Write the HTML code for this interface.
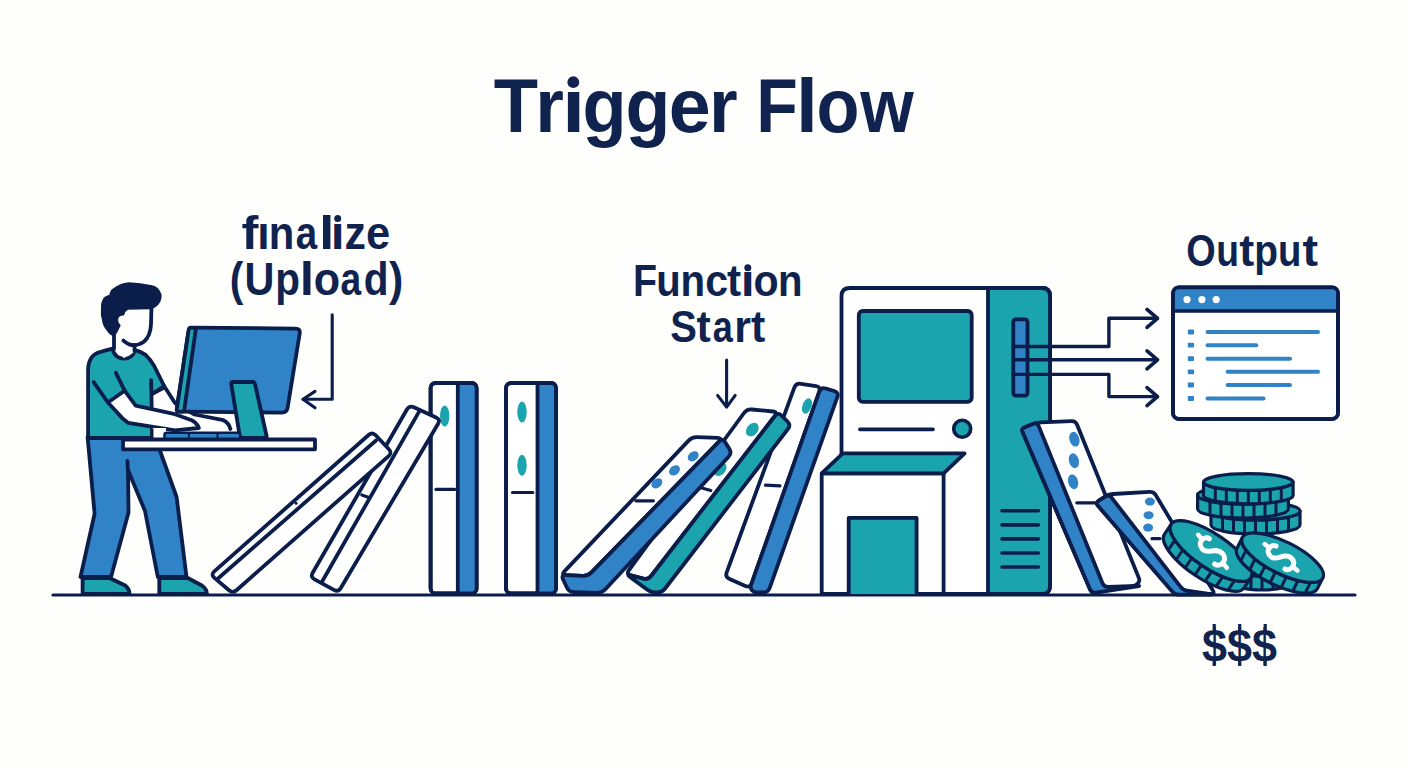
<!DOCTYPE html>
<html><head><meta charset="utf-8">
<style>
html,body{margin:0;padding:0;background:#fefefd;}
body{width:1408px;height:768px;overflow:hidden;}
svg{display:block;}
text{font-family:"Liberation Sans",sans-serif;font-weight:bold;fill:#10234f;}
</style></head><body>
<svg width="1408" height="768" viewBox="0 0 1408 768">
<rect width="1408" height="768" fill="#fefefd"/>
<text x="1202" y="662" font-size="47" textLength="75" lengthAdjust="spacingAndGlyphs">$$$</text>
<g fill="#10234f"><rect x="1212.6" y="624" width="3.2" height="8"/><rect x="1212.6" y="658" width="3.2" height="8"/><rect x="1238.1" y="624" width="3.2" height="8"/><rect x="1238.1" y="658" width="3.2" height="8"/><rect x="1263.6" y="624" width="3.2" height="8"/><rect x="1263.6" y="658" width="3.2" height="8"/></g>
<text transform="translate(493.69 132) scale(0.9454 1)" x="0" y="0" font-size="76.7" style="fill:#10234f">T</text>
<text transform="translate(535.14 132) scale(0.9606 1)" x="0" y="0" font-size="76.7" style="fill:#10234f">r</text>
<text transform="translate(561.92 132) scale(1.0833 1)" x="0" y="0" font-size="76.7" style="fill:#10234f">ı</text>
<text transform="translate(582.54 132) scale(0.9410 1)" x="0" y="0" font-size="76.7" style="fill:#10234f">g</text>
<text transform="translate(625.59 132) scale(0.9566 1)" x="0" y="0" font-size="76.7" style="fill:#10234f">g</text>
<text transform="translate(668.76 132) scale(0.9827 1)" x="0" y="0" font-size="76.7" style="fill:#10234f">e</text>
<text transform="translate(708.94 132) scale(0.9606 1)" x="0" y="0" font-size="76.7" style="fill:#10234f">r</text>
<text transform="translate(756.25 132) scale(0.8866 1)" x="0" y="0" font-size="76.7" style="fill:#10234f">F</text>
<text transform="translate(796.10 132) scale(1.0262 1)" x="0" y="0" font-size="76.7" style="fill:#10234f">l</text>
<text transform="translate(816.45 132) scale(0.9178 1)" x="0" y="0" font-size="76.7" style="fill:#10234f">o</text>
<text transform="translate(860.30 132) scale(0.8978 1)" x="0" y="0" font-size="76.7" style="fill:#10234f">w</text>
<text transform="translate(241.43 249) scale(1.1079 1)" x="0" y="0" font-size="46" style="fill:#10234f">f</text>
<text transform="translate(257.15 249) scale(0.9665 1)" x="0" y="0" font-size="46" style="fill:#10234f">ı</text>
<text transform="translate(268.74 249) scale(0.9093 1)" x="0" y="0" font-size="46" style="fill:#10234f">n</text>
<text transform="translate(295.67 249) scale(0.8358 1)" x="0" y="0" font-size="46" style="fill:#10234f">a</text>
<text transform="translate(319.13 249) scale(1.1725 1)" x="0" y="0" font-size="46" style="fill:#10234f">l</text>
<text transform="translate(330.79 249) scale(1.0774 1)" x="0" y="0" font-size="46" style="fill:#10234f">ı</text>
<text transform="translate(344.48 249) scale(0.9335 1)" x="0" y="0" font-size="46" style="fill:#10234f">z</text>
<text transform="translate(366.10 249) scale(0.9454 1)" x="0" y="0" font-size="46" style="fill:#10234f">e</text>
<text transform="translate(229.71 294.6) scale(0.8820 1)" x="0" y="0" font-size="46.4" style="fill:#10234f">(</text>
<text transform="translate(244.61 294.6) scale(0.8928 1)" x="0" y="0" font-size="46.4" style="fill:#10234f">U</text>
<text transform="translate(275.13 294.6) scale(0.8725 1)" x="0" y="0" font-size="46.4" style="fill:#10234f">p</text>
<text transform="translate(299.69 294.6) scale(1.1152 1)" x="0" y="0" font-size="46.4" style="fill:#10234f">l</text>
<text transform="translate(313.81 294.6) scale(0.9305 1)" x="0" y="0" font-size="46.4" style="fill:#10234f">o</text>
<text transform="translate(340.61 294.6) scale(0.8003 1)" x="0" y="0" font-size="46.4" style="fill:#10234f">a</text>
<text transform="translate(363.69 294.6) scale(0.8746 1)" x="0" y="0" font-size="46.4" style="fill:#10234f">d</text>
<text transform="translate(388.96 294.6) scale(0.9240 1)" x="0" y="0" font-size="46.4" style="fill:#10234f">)</text>
<text transform="translate(632.96 296.1) scale(0.9042 1)" x="0" y="0" font-size="43.6" style="fill:#10234f">F</text>
<text transform="translate(656.27 296.1) scale(0.9190 1)" x="0" y="0" font-size="43.6" style="fill:#10234f">u</text>
<text transform="translate(680.45 296.1) scale(0.9214 1)" x="0" y="0" font-size="43.6" style="fill:#10234f">n</text>
<text transform="translate(705.30 296.1) scale(0.9404 1)" x="0" y="0" font-size="43.6" style="fill:#10234f">c</text>
<text transform="translate(726.98 296.1) scale(0.9736 1)" x="0" y="0" font-size="43.6" style="fill:#10234f">t</text>
<text transform="translate(740.87 296.1) scale(1.1451 1)" x="0" y="0" font-size="43.6" style="fill:#10234f">ı</text>
<text transform="translate(753.39 296.1) scale(0.9429 1)" x="0" y="0" font-size="43.6" style="fill:#10234f">o</text>
<text transform="translate(777.95 296.1) scale(0.9214 1)" x="0" y="0" font-size="43.6" style="fill:#10234f">n</text>
<text transform="translate(670.35 341.6) scale(0.9149 1)" x="0" y="0" font-size="43.6" style="fill:#10234f">S</text>
<text transform="translate(696.58 341.6) scale(0.9811 1)" x="0" y="0" font-size="43.6" style="fill:#10234f">t</text>
<text transform="translate(712.65 341.6) scale(0.8259 1)" x="0" y="0" font-size="43.6" style="fill:#10234f">a</text>
<text transform="translate(734.28 341.6) scale(0.9826 1)" x="0" y="0" font-size="43.6" style="fill:#10234f">r</text>
<text transform="translate(751.08 341.6) scale(0.9811 1)" x="0" y="0" font-size="43.6" style="fill:#10234f">t</text>
<text transform="translate(1186.15 265.7) scale(0.8544 1)" x="0" y="0" font-size="44.3" style="fill:#10234f">O</text>
<text transform="translate(1216.29 265.7) scale(0.8414 1)" x="0" y="0" font-size="44.3" style="fill:#10234f">u</text>
<text transform="translate(1239.15 265.7) scale(1.0168 1)" x="0" y="0" font-size="44.3" style="fill:#10234f">t</text>
<text transform="translate(1254.14 265.7) scale(0.8780 1)" x="0" y="0" font-size="44.3" style="fill:#10234f">p</text>
<text transform="translate(1278.02 265.7) scale(0.8648 1)" x="0" y="0" font-size="44.3" style="fill:#10234f">u</text>
<text transform="translate(1302.53 265.7) scale(1.0533 1)" x="0" y="0" font-size="44.3" style="fill:#10234f">t</text>
<circle cx="573.3" cy="82.2" r="5.9" fill="#10234f"/>
<circle cx="337.7" cy="218.5" r="3.5" fill="#10234f"/>
<circle cx="747.8" cy="267.8" r="3.5" fill="#10234f"/>
<line x1="53" y1="595" x2="1355" y2="595" stroke="#0b1d4b" stroke-width="3.2" stroke-linecap="round"/>
<polygon points="87.6,437.0 94.6,513.7 80.5,577.0 111.0,577.0 128.5,512.5 128.0,470.0 145.0,511.0 157.8,577.0 186.5,577.0 176.6,497.0 159.0,448.0 157.0,437.0" fill="#3183c8" stroke="#0b1d4b" stroke-width="3.8" stroke-linejoin="round" />
<line x1="127.4" y1="461" x2="128" y2="472" stroke="#0b1d4b" stroke-width="3.8" stroke-linecap="round"/>
<path d="M82.6,578 L109.6,578 L125.2,585.5 Q129.5,589 129.5,594 L82.6,594 Z" fill="#1ba3ae" stroke="#0b1d4b" stroke-width="3.8" stroke-linejoin="round" stroke-linecap="round" />
<path d="M159.3,578 L187.7,578 L201.9,585.5 Q206.9,589 206.9,594 L159.3,594 Z" fill="#1ba3ae" stroke="#0b1d4b" stroke-width="3.8" stroke-linejoin="round" stroke-linecap="round" />
<path d="M88.1,438 L88.1,369.7 C88.1,360 93,353 101,351.8 C105,350.5 109,349.5 112.8,348.7 C114,356 119,358.5 124.6,358.5 C130,358.5 134,355 134.4,349.9 Q141,351.5 145.6,354.9 Q150,359 154.2,366 L164.1,386 L152,394 L152,438 Z" fill="#1ba3ae" stroke="#0b1d4b" stroke-width="3.8" stroke-linejoin="round" stroke-linecap="round" />
<path d="M152.4,393.8 L164.1,387.6 L175,403 L194.6,414.5 L223.3,420.2 Q229,423 230.4,428.8 L200,433 L152,433 Z" fill="#fff"/>
<path d="M164.1,386 L175,403 L194.6,414.5 L223.3,420.2 Q229,423 230.4,429" fill="none" stroke="#0b1d4b" stroke-width="3.8" stroke-linejoin="round" stroke-linecap="round" />
<line x1="152.4" y1="393.8" x2="164.1" y2="387.6" stroke="#0b1d4b" stroke-width="3.8" stroke-linecap="round"/>
<line x1="151.1" y1="380.2" x2="151.7" y2="406.8" stroke="#0b1d4b" stroke-width="3.8" stroke-linecap="round"/>
<path d="M107.9,402.5 L124.6,390.7 L135.7,405.6 L175,414.2 L191.7,420.2 Q197,423 198.9,428 L175,430.3 L128.3,422.9 L122.1,417.9 Z" fill="#ffffff" stroke="#0b1d4b" stroke-width="3.8" stroke-linejoin="round" stroke-linecap="round" />
<line x1="93.65" y1="382.1" x2="107.9" y2="402.5" stroke="#0b1d4b" stroke-width="3.8" stroke-linecap="round"/>
<line x1="115.9" y1="372.8" x2="124.6" y2="390.7" stroke="#0b1d4b" stroke-width="3.8" stroke-linecap="round"/>
<rect x="152" y="428" width="14" height="10.5" fill="#fff"/>
<line x1="152" y1="429.5" x2="152" y2="438" stroke="#0b1d4b" stroke-width="3" stroke-linecap="round"/>
<path d="M151.5,306 L151,324.2 L149.2,334.8 L143.9,341.8 L136.9,345.3 L134.5,346 L134.5,352 L124,358 L114,350 L114,336 L118,320 L125,309 Z" fill="#fff"/>
<path d="M151.5,306 L151,324.2 Q150.5,336 143.9,341.8 Q137,346.5 129.8,344.7 Q126,343 123.4,340.6" fill="none" stroke="#0b1d4b" stroke-width="3.8" stroke-linejoin="round" stroke-linecap="round" />
<line x1="114" y1="334" x2="114" y2="349" stroke="#0b1d4b" stroke-width="3.8" stroke-linecap="round"/>
<line x1="134.5" y1="345" x2="134.5" y2="351" stroke="#0b1d4b" stroke-width="3.8" stroke-linecap="round"/>
<path d="M109.9,295.5 Q111,290 113.4,289.1 Q120,284 128.7,283 Q140,283.5 152.1,286.1 Q158,287 160.9,294.9 Q161.5,302 155,306.6 Q152,308.4 151,308.4 L127.5,309 Q124,311 123.4,314.8 Q118,315 117.5,319 Q117,323 119.9,325.4 L117,331.3 L114,336 Q109,333.5 108.2,331.3 Q103,325 102.9,320.7 Q101,315 101.7,310.2 Q101.5,303 102.9,300.8 Q104,297.5 106.4,296.7 Z" fill="#0b1d4b" stroke="#0b1d4b" stroke-width="1.5" stroke-linejoin="round" stroke-linecap="round" />
<path d="M188.3,332.5 Q189.0,327.6 194.0,327.6 L295.5,328.6 Q300.5,328.6 299.7,333.5 L287.6,407.7 Q286.8,412.6 281.8,412.6 L181.4,411.6 Q176.4,411.6 177.1,406.7 Z" fill="#3183c8" stroke="#0b1d4b" stroke-width="3.8" stroke-linejoin="round" />
<path d="M188.7,329.6 Q189.0,327.6 191.0,327.7 L194.0,327.9 Q196.0,328.0 195.7,330.0 L184.3,409.6 Q184.0,411.6 182.0,411.6 L178.4,411.6 Q176.4,411.6 176.7,409.6 Z" fill="#1ba3ae" stroke="#0b1d4b" stroke-width="3.8" stroke-linejoin="round" />
<path d="M231.3,384.0 Q231.0,382.0 233.0,382.0 L252.6,382.0 Q254.6,382.0 255.0,384.0 L266.6,436.0 Q267.0,438.0 265.0,438.0 L242.0,438.0 Q240.0,438.0 239.7,436.0 Z" fill="#1ba3ae" stroke="#0b1d4b" stroke-width="3.8" stroke-linejoin="round" />
<rect x="164.5" y="432.8" width="75.5" height="6.699999999999989" rx="2" fill="#3183c8" stroke="#0b1d4b" stroke-width="2.5"/>
<line x1="188.9" y1="433" x2="188.9" y2="439" stroke="#0b1d4b" stroke-width="2.2" stroke-linecap="round"/>
<line x1="217.5" y1="433" x2="217.5" y2="439" stroke="#0b1d4b" stroke-width="2.2" stroke-linecap="round"/>
<path d="M123,439.5 L315,439.5 L315,449.3 L123,449.3 Z" fill="#ffffff" stroke="#0b1d4b" stroke-width="3.8" stroke-linejoin="round" stroke-linecap="round" />
<path d="M332.2,314.8 L332.2,399.2 L303,399.2" fill="none" stroke="#0b1d4b" stroke-width="3.1" stroke-linejoin="round" stroke-linecap="round" />
<path d="M315,391.4 L303,399.2 L315,407.8" fill="none" stroke="#0b1d4b" stroke-width="3.1" stroke-linejoin="round" stroke-linecap="round" />
<rect x="430.6" y="383" width="46.0" height="210.39999999999998" rx="5" fill="#ffffff" stroke="#0b1d4b" stroke-width="3.8"/>
<path d="M457.8,384.5 L457.8,592 L471,592 Q475,592 475,588 L475,388 Q475,384.5 471,384.5 Z" fill="#3183c8" stroke="#0b1d4b" stroke-width="0" stroke-linejoin="round" stroke-linecap="round" />
<line x1="457.8" y1="384.5" x2="457.8" y2="592" stroke="#0b1d4b" stroke-width="3.8" stroke-linecap="round"/>
<rect x="430.6" y="383" width="46.0" height="210.39999999999998" rx="5" fill="none" stroke="#0b1d4b" stroke-width="3.8"/>
<ellipse cx="444.7" cy="416" rx="4.7" ry="10.5" fill="#1ba3ae"/>
<line x1="436" y1="489.4" x2="454.7" y2="489.4" stroke="#0b1d4b" stroke-width="3.2" stroke-linecap="round"/>
<rect x="506" y="383" width="50" height="210.39999999999998" rx="5" fill="#ffffff" stroke="#0b1d4b" stroke-width="3.8"/>
<path d="M537.5,384.5 L537.5,592 L550,592 Q554.5,592 554.5,588 L554.5,388 Q554.5,384.5 550,384.5 Z" fill="#3183c8" stroke="#0b1d4b" stroke-width="0" stroke-linejoin="round" stroke-linecap="round" />
<line x1="537.5" y1="384.5" x2="537.5" y2="592" stroke="#0b1d4b" stroke-width="3.8" stroke-linecap="round"/>
<rect x="506" y="383" width="50" height="210.39999999999998" rx="5" fill="none" stroke="#0b1d4b" stroke-width="3.8"/>
<ellipse cx="522" cy="412" rx="4.7" ry="10.5" fill="#1ba3ae"/>
<ellipse cx="522" cy="465.3" rx="4.7" ry="10.5" fill="#1ba3ae"/>
<line x1="512.5" y1="492.5" x2="532.8" y2="492.5" stroke="#0b1d4b" stroke-width="3.2" stroke-linecap="round"/>
<path d="M314.6,579.4 Q310.2,577.0 312.7,572.7 L406.9,409.5 Q409.4,405.2 413.9,407.3 L436.1,417.4 Q440.6,419.5 438.1,423.8 L340.8,588.0 Q338.3,592.3 333.9,589.9 Z" fill="#ffffff" stroke="#0b1d4b" stroke-width="3.8" stroke-linejoin="round" />
<line x1="322" y1="581.8" x2="419.8" y2="410.4" stroke="#0b1d4b" stroke-width="3.8" stroke-linecap="round"/>
<line x1="361.8" y1="495" x2="368.8" y2="497.4" stroke="#0b1d4b" stroke-width="3.2" stroke-linecap="round"/>
<path d="M214.4,577.9 Q210.6,574.7 214.3,571.4 L368.6,435.0 Q372.3,431.7 375.7,435.3 L388.9,449.2 Q392.3,452.8 388.6,456.1 L236.5,590.2 Q232.8,593.5 229.0,590.3 Z" fill="#ffffff" stroke="#0b1d4b" stroke-width="3.8" stroke-linejoin="round" />
<line x1="218" y1="578.5" x2="376" y2="440.5" stroke="#0b1d4b" stroke-width="3.8" stroke-linecap="round"/>
<circle cx="296.1" cy="503.2" r="1.5" fill="#0b1d4b"/>
<path d="M729.6,579.0 Q725.0,577.0 726.7,572.3 L794.3,387.7 Q796.0,383.0 800.9,383.8 L816.1,386.2 Q821.0,387.0 819.3,391.7 L751.7,583.3 Q750.0,588.0 745.4,586.0 Z" fill="#ffffff" stroke="#0b1d4b" stroke-width="3.8" stroke-linejoin="round" />
<path d="M751.8,590.0 Q750.0,588.0 750.9,585.4 L819.3,391.7 Q821.0,387.0 825.8,388.5 L834.2,391.0 Q839.0,392.5 837.3,397.2 L769.7,587.8 Q768.0,592.5 763.0,592.5 L756.7,592.5 Q754.0,592.5 752.2,590.5 Z" fill="#3183c8" stroke="#0b1d4b" stroke-width="3.8" stroke-linejoin="round" />
<ellipse cx="807" cy="406" rx="4.5" ry="8" transform="rotate(20 807 406)" fill="#1ba3ae"/>
<line x1="765.4" y1="485.2" x2="780" y2="485.8" stroke="#0b1d4b" stroke-width="3.2" stroke-linecap="round"/>
<path d="M630.8,575.3 Q626.0,574.0 629.0,570.0 L744.0,413.0 Q747.0,409.0 752.0,409.5 L773.0,411.5 Q778.0,412.0 774.9,416.0 L651.1,576.0 Q648.0,580.0 643.2,578.7 Z" fill="#ffffff" stroke="#0b1d4b" stroke-width="3.8" stroke-linejoin="round" />
<path d="M643.2,578.7 Q648.0,580.0 651.1,576.0 L774.9,416.0 Q778.0,412.0 781.5,415.5 L787.5,421.5 Q791.0,425.0 787.9,429.0 L665.1,588.5 Q662.0,592.5 657.0,592.5 L656.0,592.5 Q651.0,592.5 647.0,589.5 L630.0,577.0 Q626.0,574.0 630.8,575.3 Z" fill="#1ba3ae" stroke="#0b1d4b" stroke-width="3.8" stroke-linejoin="round" />
<ellipse cx="752.3" cy="429.6" rx="5.5" ry="7.5" transform="rotate(40 752.3 429.6)" fill="#1ba3ae"/>
<ellipse cx="720.2" cy="469.2" rx="5.5" ry="7.5" transform="rotate(40 720.2 469.2)" fill="#1ba3ae"/>
<line x1="700" y1="487.5" x2="710.8" y2="490.5" stroke="#0b1d4b" stroke-width="3.2" stroke-linecap="round"/>
<path d="M566.0,575.2 Q561.0,575.0 564.4,571.4 L688.6,440.6 Q692.0,437.0 697.0,437.2 L717.5,437.8 Q722.5,438.0 719.0,441.6 L591.5,572.4 Q588.0,576.0 583.0,575.8 Z" fill="#ffffff" stroke="#0b1d4b" stroke-width="3.8" stroke-linejoin="round" />
<path d="M583.0,575.8 Q588.0,576.0 591.5,572.4 L719.0,441.6 Q722.5,438.0 725.2,442.2 L729.3,448.8 Q732.0,453.0 728.6,456.7 L605.4,589.3 Q602.0,593.0 597.0,592.8 L574.0,592.2 Q569.0,592.0 566.9,587.5 L563.1,579.5 Q561.0,575.0 566.0,575.2 Z" fill="#3183c8" stroke="#0b1d4b" stroke-width="3.8" stroke-linejoin="round" />
<ellipse cx="693.2" cy="456.3" rx="6" ry="4.5" transform="rotate(-38 693.2 456.3)" fill="#3183c8"/>
<ellipse cx="674.5" cy="470.4" rx="6" ry="4.5" transform="rotate(-38 674.5 470.4)" fill="#3183c8"/>
<ellipse cx="656.9" cy="483.3" rx="6" ry="4.5" transform="rotate(-38 656.9 483.3)" fill="#3183c8"/>
<line x1="635.8" y1="500.8" x2="653.4" y2="500.8" stroke="#0b1d4b" stroke-width="3.2" stroke-linecap="round"/>
<line x1="726.6" y1="360" x2="726.6" y2="406" stroke="#0b1d4b" stroke-width="3.1" stroke-linecap="round"/>
<path d="M717.6,395.4 L726.6,407.1 L735.2,395.4" fill="none" stroke="#0b1d4b" stroke-width="3.1" stroke-linejoin="round" stroke-linecap="round" />
<path d="M841.5,594 L841.5,296 Q841.5,288 850,288 L1042,288 Q1050,288 1050,296 L1050,586 Q1050,594 1042,594 Z" fill="#ffffff" stroke="#0b1d4b" stroke-width="3.8" stroke-linejoin="round" stroke-linecap="round" />
<path d="M988,288 L1042,288 Q1050,288 1050,296 L1050,586 Q1050,594 1042,594 L988,594 Z" fill="#1ba3ae" stroke="#0b1d4b" stroke-width="3.8" stroke-linejoin="round" stroke-linecap="round" />
<rect x="858.8" y="311" width="112.90000000000009" height="90.80000000000001" rx="4" fill="#1ba3ae" stroke="#0b1d4b" stroke-width="3.8"/>
<line x1="859.9" y1="429.4" x2="933" y2="429.4" stroke="#0b1d4b" stroke-width="3.6" stroke-linecap="round"/>
<circle cx="962.2" cy="428.8" r="8.5" fill="#1ba3ae" stroke="#0b1d4b" stroke-width="3.6"/>
<rect x="1013.3" y="319.4" width="14.200000000000045" height="76.20000000000005" rx="2.5" fill="#3183c8" stroke="#0b1d4b" stroke-width="3.8"/>
<path d="M821.7,594 L821.7,473.3 L943.6,473.3 L943.6,594 Z" fill="#ffffff" stroke="#0b1d4b" stroke-width="3.8" stroke-linejoin="round" stroke-linecap="round" />
<polygon points="821.7,473.3 842.8,453.4 964.6,453.4 943.6,473.3" fill="#1ba3ae" stroke="#0b1d4b" stroke-width="3.8" stroke-linejoin="round" />
<path d="M848.7,594 L848.7,517.9 L916.6,517.9 L916.6,594" fill="#1ba3ae" stroke="#0b1d4b" stroke-width="3.8" stroke-linejoin="round" stroke-linecap="round" />
<line x1="1002" y1="510.8" x2="1038.4" y2="510.8" stroke="#0b1d4b" stroke-width="3.6" stroke-linecap="round"/>
<line x1="1002" y1="524.9" x2="1038.4" y2="524.9" stroke="#0b1d4b" stroke-width="3.6" stroke-linecap="round"/>
<line x1="1002" y1="538.9" x2="1038.4" y2="538.9" stroke="#0b1d4b" stroke-width="3.6" stroke-linecap="round"/>
<line x1="1002" y1="553" x2="1038.4" y2="553" stroke="#0b1d4b" stroke-width="3.6" stroke-linecap="round"/>
<line x1="1002" y1="567" x2="1038.4" y2="567" stroke="#0b1d4b" stroke-width="3.6" stroke-linecap="round"/>
<path d="M1013,346.5 L1108.9,346.5 L1108.9,318.3 L1157.5,318.3" fill="none" stroke="#0b1d4b" stroke-width="3.4" stroke-linejoin="round" stroke-linecap="round" />
<path d="M1013,359.8 L1157.5,359.8" fill="none" stroke="#0b1d4b" stroke-width="3.4" stroke-linejoin="round" stroke-linecap="round" />
<path d="M1013,374.4 L1108.9,374.4 L1108.9,396.6 L1157.5,396.6" fill="none" stroke="#0b1d4b" stroke-width="3.4" stroke-linejoin="round" stroke-linecap="round" />
<path d="M1147,309.3 L1157.5,318.3 L1147,327.3" fill="none" stroke="#0b1d4b" stroke-width="3.6" stroke-linejoin="round" stroke-linecap="round" />
<path d="M1147,350.8 L1157.5,359.8 L1147,368.8" fill="none" stroke="#0b1d4b" stroke-width="3.6" stroke-linejoin="round" stroke-linecap="round" />
<path d="M1147,387.6 L1157.5,396.6 L1147,405.6" fill="none" stroke="#0b1d4b" stroke-width="3.6" stroke-linejoin="round" stroke-linecap="round" />
<rect x="1173" y="287.3" width="165" height="131.7" rx="6" fill="#ffffff" stroke="#0b1d4b" stroke-width="3.8"/>
<path d="M1174.5,311 L1174.5,294 Q1174.5,288.8 1180,288.8 L1331,288.8 Q1336.5,288.8 1336.5,294 L1336.5,311 Z" fill="#3183c8" stroke="#0b1d4b" stroke-width="0" stroke-linejoin="round" stroke-linecap="round" />
<line x1="1173" y1="311" x2="1338" y2="311" stroke="#0b1d4b" stroke-width="3.6" stroke-linecap="round"/>
<rect x="1173" y="287.3" width="165" height="131.7" rx="6" fill="none" stroke="#0b1d4b" stroke-width="3.8"/>
<circle cx="1187" cy="299.6" r="3.6" fill="#ffffff"/>
<circle cx="1201.9" cy="299.6" r="3.6" fill="#ffffff"/>
<circle cx="1216.2" cy="299.6" r="3.6" fill="#ffffff"/>
<line x1="1207.6" y1="332.0" x2="1318" y2="332.0" stroke="#3183c8" stroke-width="4.1" stroke-linecap="round"/>
<rect x="1187.8" y="329.59999999999997" width="6.2" height="4.8" rx="0.8" fill="#3183c8"/>
<line x1="1207.6" y1="345.2" x2="1256.3" y2="345.2" stroke="#3183c8" stroke-width="4.1" stroke-linecap="round"/>
<rect x="1187.8" y="342.79999999999995" width="6.2" height="4.8" rx="0.8" fill="#3183c8"/>
<line x1="1207.6" y1="358.7" x2="1290" y2="358.7" stroke="#3183c8" stroke-width="4.1" stroke-linecap="round"/>
<rect x="1187.8" y="356.29999999999995" width="6.2" height="4.8" rx="0.8" fill="#3183c8"/>
<line x1="1227.7" y1="371.8" x2="1318" y2="371.8" stroke="#3183c8" stroke-width="4.1" stroke-linecap="round"/>
<rect x="1187.8" y="369.4" width="6.2" height="4.8" rx="0.8" fill="#3183c8"/>
<line x1="1227.7" y1="385.0" x2="1290" y2="385.0" stroke="#3183c8" stroke-width="4.1" stroke-linecap="round"/>
<rect x="1187.8" y="382.59999999999997" width="6.2" height="4.8" rx="0.8" fill="#3183c8"/>
<line x1="1207.6" y1="398.5" x2="1263.5" y2="398.5" stroke="#3183c8" stroke-width="4.1" stroke-linecap="round"/>
<rect x="1187.8" y="396.09999999999997" width="6.2" height="4.8" rx="0.8" fill="#3183c8"/>
<path d="M1022.7,432.3 Q1021.1,428.6 1024.8,427.2 L1033.5,423.8 Q1037.2,422.4 1041.2,422.3 L1071.6,421.2 Q1075.6,421.1 1077.1,424.8 L1138.9,578.1 Q1140.0,580.8 1138.2,583.0 L1137.8,583.5 Q1136.0,585.7 1133.2,586.2 L1095.6,592.5 Q1091.7,593.2 1090.1,589.5 Z" fill="#ffffff" stroke="#0b1d4b" stroke-width="3.8" stroke-linejoin="round" />
<path d="M1022.7,432.3 Q1021.1,428.6 1024.8,427.2 L1033.5,423.8 Q1037.2,422.4 1038.7,426.1 L1102.5,583.3 Q1104.0,587.0 1108.0,586.9 L1137.2,585.8 Q1141.2,585.7 1137.2,586.3 L1095.7,592.6 Q1091.7,593.2 1090.1,589.5 Z" fill="#3183c8" stroke="#0b1d4b" stroke-width="3.8" stroke-linejoin="round" />
<ellipse cx="1074.4" cy="439.2" rx="5" ry="7.5" transform="rotate(-15 1074.4 439.2)" fill="#3183c8"/>
<ellipse cx="1073.9" cy="460.7" rx="5" ry="7.5" transform="rotate(-15 1073.9 460.7)" fill="#3183c8"/>
<ellipse cx="1073.1" cy="481.8" rx="5" ry="7.5" transform="rotate(-15 1073.1 481.8)" fill="#3183c8"/>
<line x1="1076.8" y1="502.8" x2="1095.4" y2="502.8" stroke="#0b1d4b" stroke-width="3.2" stroke-linecap="round"/>
<path d="M1098.0,505.8 Q1095.4,502.8 1098.8,500.7 L1105.6,496.3 Q1109.0,494.2 1113.0,494.0 L1149.6,491.9 Q1153.6,491.7 1155.7,495.1 L1212.9,590.6 Q1215.0,594.0 1211.0,594.0 L1179.0,594.0 Q1175.0,594.0 1172.4,591.0 Z" fill="#ffffff" stroke="#0b1d4b" stroke-width="3.8" stroke-linejoin="round" />
<path d="M1098.0,505.8 Q1095.4,502.8 1098.8,500.7 L1105.6,496.3 Q1109.0,494.2 1111.4,497.4 L1180.6,586.8 Q1183.0,590.0 1187.0,590.6 L1210.4,594.1 Q1214.4,594.7 1210.4,594.7 L1179.0,594.7 Q1175.0,594.7 1172.4,591.7 Z" fill="#3183c8" stroke="#0b1d4b" stroke-width="3.8" stroke-linejoin="round" />
<ellipse cx="1149.9" cy="501.6" rx="5" ry="4" fill="#3183c8"/>
<ellipse cx="1148.6" cy="515.2" rx="5" ry="4" fill="#3183c8"/>
<ellipse cx="1148.1" cy="527.6" rx="5" ry="4" fill="#3183c8"/>
<line x1="1152" y1="538.7" x2="1160" y2="538.7" stroke="#0b1d4b" stroke-width="3.2" stroke-linecap="round"/>
<path d="M1211.0,511 A44.5,9 0 0 0 1300.0,511 L1300.0,525 A44.5,9 0 0 1 1211.0,525 Z" fill="#1ba3ae" stroke="#0b1d4b" stroke-width="3.2" stroke-linejoin="round" stroke-linecap="round" /><line x1="1222.5" y1="517.0" x2="1222.5" y2="531.0" stroke="#0b1d4b" stroke-width="3"/><line x1="1233.5" y1="518.8" x2="1233.5" y2="532.8" stroke="#0b1d4b" stroke-width="3"/><line x1="1244.5" y1="519.7" x2="1244.5" y2="533.7" stroke="#0b1d4b" stroke-width="3"/><line x1="1255.5" y1="520.0" x2="1255.5" y2="534.0" stroke="#0b1d4b" stroke-width="3"/><line x1="1266.5" y1="519.7" x2="1266.5" y2="533.7" stroke="#0b1d4b" stroke-width="3"/><line x1="1277.5" y1="518.8" x2="1277.5" y2="532.8" stroke="#0b1d4b" stroke-width="3"/><line x1="1288.5" y1="517.0" x2="1288.5" y2="531.0" stroke="#0b1d4b" stroke-width="3"/><ellipse cx="1255.5" cy="511" rx="44.5" ry="9" fill="#1ba3ae" stroke="#0b1d4b" stroke-width="3.2"/>
<path d="M1197.6,495 A45.4,9 0 0 0 1288.4,495 L1288.4,509 A45.4,9 0 0 1 1197.6,509 Z" fill="#1ba3ae" stroke="#0b1d4b" stroke-width="3.2" stroke-linejoin="round" stroke-linecap="round" /><line x1="1210.0" y1="501.2" x2="1210.0" y2="515.2" stroke="#0b1d4b" stroke-width="3"/><line x1="1221.0" y1="502.9" x2="1221.0" y2="516.9" stroke="#0b1d4b" stroke-width="3"/><line x1="1232.0" y1="503.7" x2="1232.0" y2="517.7" stroke="#0b1d4b" stroke-width="3"/><line x1="1243.0" y1="504.0" x2="1243.0" y2="518.0" stroke="#0b1d4b" stroke-width="3"/><line x1="1254.0" y1="503.7" x2="1254.0" y2="517.7" stroke="#0b1d4b" stroke-width="3"/><line x1="1265.0" y1="502.9" x2="1265.0" y2="516.9" stroke="#0b1d4b" stroke-width="3"/><line x1="1276.0" y1="501.2" x2="1276.0" y2="515.2" stroke="#0b1d4b" stroke-width="3"/><ellipse cx="1243" cy="495" rx="45.4" ry="9" fill="#1ba3ae" stroke="#0b1d4b" stroke-width="3.2"/>
<path d="M1203.5,482 A44.8,8.3 0 0 0 1293.1,482 L1293.1,495.5 A44.8,8.3 0 0 1 1203.5,495.5 Z" fill="#1ba3ae" stroke="#0b1d4b" stroke-width="3.2" stroke-linejoin="round" stroke-linecap="round" /><line x1="1215.3" y1="487.6" x2="1215.3" y2="501.1" stroke="#0b1d4b" stroke-width="3"/><line x1="1226.3" y1="489.2" x2="1226.3" y2="502.7" stroke="#0b1d4b" stroke-width="3"/><line x1="1237.3" y1="490.0" x2="1237.3" y2="503.5" stroke="#0b1d4b" stroke-width="3"/><line x1="1248.3" y1="490.3" x2="1248.3" y2="503.8" stroke="#0b1d4b" stroke-width="3"/><line x1="1259.3" y1="490.0" x2="1259.3" y2="503.5" stroke="#0b1d4b" stroke-width="3"/><line x1="1270.3" y1="489.2" x2="1270.3" y2="502.7" stroke="#0b1d4b" stroke-width="3"/><line x1="1281.3" y1="487.6" x2="1281.3" y2="501.1" stroke="#0b1d4b" stroke-width="3"/><ellipse cx="1248.3" cy="482" rx="44.8" ry="8.3" fill="#1ba3ae" stroke="#0b1d4b" stroke-width="3.2"/>
<path d="M1232,568 A30,8 0 0 0 1292,568 L1292,582 A30,8 0 0 1 1232,582 Z" fill="#1ba3ae" stroke="#0b1d4b" stroke-width="3.2" stroke-linejoin="round" stroke-linecap="round" /><line x1="1240.0" y1="573.4" x2="1240.0" y2="587.4" stroke="#0b1d4b" stroke-width="3"/><line x1="1251.0" y1="575.4" x2="1251.0" y2="589.4" stroke="#0b1d4b" stroke-width="3"/><line x1="1262.0" y1="576.0" x2="1262.0" y2="590.0" stroke="#0b1d4b" stroke-width="3"/><line x1="1273.0" y1="575.4" x2="1273.0" y2="589.4" stroke="#0b1d4b" stroke-width="3"/><line x1="1284.0" y1="573.4" x2="1284.0" y2="587.4" stroke="#0b1d4b" stroke-width="3"/><ellipse cx="1262" cy="568" rx="30" ry="8" fill="#1ba3ae" stroke="#0b1d4b" stroke-width="3.2"/>
<g transform="rotate(34 1211 551)"><path d="M1163,551 A48,17 0 0 0 1259,551 L1259,563 A48,17 0 0 1 1163,563 Z" fill="#1ba3ae" stroke="#0b1d4b" stroke-width="3.2" stroke-linejoin="round" stroke-linecap="round" /><line x1="1175.0" y1="562.2" x2="1175.0" y2="574.2" stroke="#0b1d4b" stroke-width="3"/><line x1="1187.0" y1="565.7" x2="1187.0" y2="577.7" stroke="#0b1d4b" stroke-width="3"/><line x1="1199.0" y1="567.5" x2="1199.0" y2="579.5" stroke="#0b1d4b" stroke-width="3"/><line x1="1211.0" y1="568.0" x2="1211.0" y2="580.0" stroke="#0b1d4b" stroke-width="3"/><line x1="1223.0" y1="567.5" x2="1223.0" y2="579.5" stroke="#0b1d4b" stroke-width="3"/><line x1="1235.0" y1="565.7" x2="1235.0" y2="577.7" stroke="#0b1d4b" stroke-width="3"/><line x1="1247.0" y1="562.2" x2="1247.0" y2="574.2" stroke="#0b1d4b" stroke-width="3"/><ellipse cx="1211" cy="551" rx="48" ry="17" fill="#1ba3ae" stroke="#0b1d4b" stroke-width="3.2"/></g><g transform="translate(1212.5 551.3) rotate(-41) scale(0.6458333333333334 1.0416666666666667)" fill="none" stroke="#fff" stroke-linecap="round"><path d="M9,-11 C7,-16.5 -9.5,-17 -9.5,-8 C-9.5,-0.5 9.5,-1 9.5,8 C9.5,17 -9,16.5 -10.5,10.5" stroke-width="5" vector-effect="non-scaling-stroke"/><path d="M0,-21 L0,-16 M0,16 L0,21" stroke-width="4.5" vector-effect="non-scaling-stroke"/></g>
<g transform="rotate(26.6 1282.6 557.7)"><path d="M1237.6,557.7 A45,16 0 0 0 1327.6,557.7 L1327.6,569.7 A45,16 0 0 1 1237.6,569.7 Z" fill="#1ba3ae" stroke="#0b1d4b" stroke-width="3.2" stroke-linejoin="round" stroke-linecap="round" /><line x1="1246.6" y1="567.3" x2="1246.6" y2="579.3" stroke="#0b1d4b" stroke-width="3"/><line x1="1258.6" y1="571.2" x2="1258.6" y2="583.2" stroke="#0b1d4b" stroke-width="3"/><line x1="1270.6" y1="573.1" x2="1270.6" y2="585.1" stroke="#0b1d4b" stroke-width="3"/><line x1="1282.6" y1="573.7" x2="1282.6" y2="585.7" stroke="#0b1d4b" stroke-width="3"/><line x1="1294.6" y1="573.1" x2="1294.6" y2="585.1" stroke="#0b1d4b" stroke-width="3"/><line x1="1306.6" y1="571.2" x2="1306.6" y2="583.2" stroke="#0b1d4b" stroke-width="3"/><line x1="1318.6" y1="567.3" x2="1318.6" y2="579.3" stroke="#0b1d4b" stroke-width="3"/><ellipse cx="1282.6" cy="557.7" rx="45" ry="16" fill="#1ba3ae" stroke="#0b1d4b" stroke-width="3.2"/></g><g transform="translate(1281 557.3) rotate(-51) scale(0.62 1.0)" fill="none" stroke="#fff" stroke-linecap="round"><path d="M9,-11 C7,-16.5 -9.5,-17 -9.5,-8 C-9.5,-0.5 9.5,-1 9.5,8 C9.5,17 -9,16.5 -10.5,10.5" stroke-width="5" vector-effect="non-scaling-stroke"/><path d="M0,-21 L0,-16 M0,16 L0,21" stroke-width="4.5" vector-effect="non-scaling-stroke"/></g>
</svg>
</body></html>
